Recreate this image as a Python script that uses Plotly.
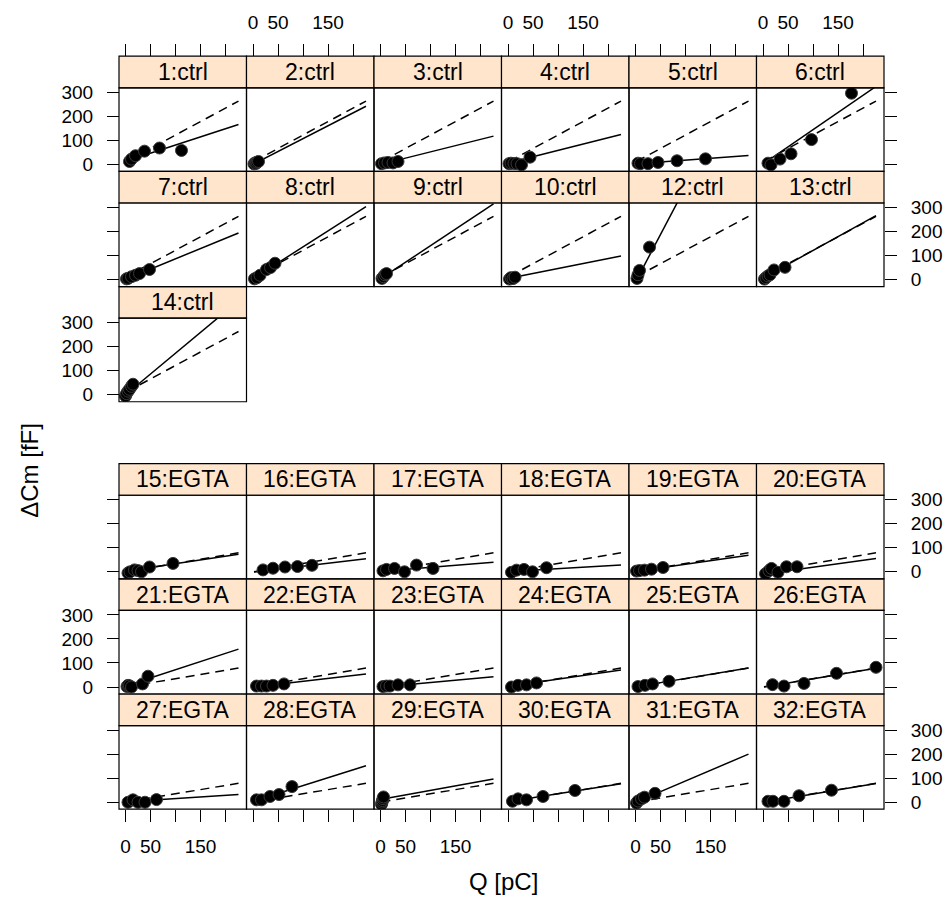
import plotly.graph_objects as go

# ---------------- data ----------------
panel_ids = [1, 2, 3, 4, 5, 6, 7, 8, 9, 10, 12, 13, 14,
             15, 16, 17, 18, 19, 20, 21, 22, 23, 24, 25, 26, 27, 28, 29, 30, 31, 32]
panel_group = ["ctrl"] * 13 + ["EGTA"] * 18

q_values = [
    [8, 12, 20, 38, 68, 112],
    [2, 4, 6, 8, 11],
    [2, 8, 15, 25, 35],
    [2, 6, 12, 18, 27, 44],
    [5, 10, 25, 45, 83, 140],
    [10, 16, 34, 56, 97, 177],
    [2, 5, 12, 20, 28, 48],
    [3, 8, 14, 27, 35, 44],
    [3, 6, 9, 12],
    [3, 6, 10, 14],
    [3, 5, 8, 28],
    [3, 6, 10, 14, 22, 44],
    [0, 2, 5, 8, 12, 15],
    [5, 9, 18, 25, 32, 48, 95],
    [20, 40, 64, 89, 118],
    [5, 12, 28, 48, 72, 105],
    [7, 17, 32, 49, 77],
    [2, 8, 18, 32, 55],
    [5, 12, 17, 30, 47, 68],
    [3, 5, 8, 12, 34, 45],
    [7, 17, 27, 40, 62],
    [5, 12, 19, 35, 59],
    [7, 20, 37, 57],
    [5, 19, 34, 67],
    [19, 42, 82, 147, 226],
    [5, 15, 25, 39, 62],
    [7, 17, 34, 52, 78],
    [2, 3, 4, 5, 6],
    [9, 20, 37, 70, 134],
    [2, 5, 12, 18, 39],
    [10, 20, 42, 72, 137],
]
dcm_values = [
    [12, 22, 36, 55, 68, 58],
    [2, 6, 4, 9, 12],
    [3, 6, 8, 6, 12],
    [3, 5, 4, 3, -2, 30],
    [5, 3, 3, 8, 15, 23],
    [5, -2, 22, 44, 103, 296],
    [3, 5, 12, 18, 25, 42],
    [3, 8, 18, 42, 50, 68],
    [5, 12, 20, 25],
    [2, 8, 4, 10],
    [5, 20, 38, 135],
    [2, 8, 15, 20, 40, 51],
    [-5, 5, 15, 23, 35, 44],
    [-5, 0, 8, 5, 0, 20, 35],
    [8, 15, 20, 22, 27],
    [4, 10, 14, 0, 28, 14],
    [-2, 7, 10, 0, 17],
    [3, 5, 7, 11, 18],
    [-8, 5, 14, -2, 21, 21],
    [2, 7, 5, 0, 13, 45],
    [4, 4, 4, 7, 13],
    [2, 4, 4, 9, 9],
    [0, 7, 9, 17],
    [2, 7, 13, 24],
    [10, 4, 15, 57, 82],
    [0, 10, 0, 0, 11],
    [10, 10, 24, 32, 65],
    [-8, 0, 7, 15, 22],
    [4, 14, 10, 24, 49],
    [-3, 5, 14, 21, 37],
    [4, 4, 4, 27, 50],
]
# individual fits (solid): intercept, slope
fit_intercept = [13, 0, 0, 6, 2, 1, 1, 3, 3, 5, -10, 6, 0,
                 3, -1, 2, 1, 2, -10, 4, 0, 0, 3, 1, -1, 2, 4, 12, 2, 0, -1]
fit_slope = [0.675, 1.07, 0.52, 0.525, 0.155, 1.43, 0.854, 1.33, 1.38, 0.41, 3.95, 1.15, 1.73,
             0.31, 0.245, 0.165, 0.12, 0.296, 0.29, 0.68, 0.24, 0.19, 0.3, 0.345, 0.35,
             0.133, 0.655, 0.375, 0.33, 0.885, 0.35]
# group fits (dashed)
group_intercept = {"ctrl": 10, "EGTA": 0}
group_slope = {"ctrl": 1.12, "EGTA": 0.35}
line_q_range = [2, 226]

x_tickvals = [0, 50, 100, 150, 200]
x_ticktext = ["0", "50", "", "150", ""]
y_tickvals = [0, 100, 200, 300]
y_ticktext = ["0", "100", "200", "300"]

# ---------------- layout geometry ----------------
W, H = 948, 904
COL_LEFT, COL_W = 119, 127.5
ROW_H, STRIP_H = 116.5, 32
GROUP_TOP = {"ctrl": 50.7, "EGTA": 462.7}
XR = [-13, 242]
YR = [-29, 318.5]
FONT = "Liberation Sans, Arial, sans-serif"
TICKFONT = dict(family=FONT, size=19, color="black")


def fx(p):
    return p / W


def fy(p):
    return 1 - p / H


fig = go.Figure()
shapes = []
annotations = []

positions = []
ctrl_i = 0
egta_i = 0
for pid, g in zip(panel_ids, panel_group):
    if g == "ctrl":
        positions.append((ctrl_i // 6, ctrl_i % 6))
        ctrl_i += 1
    else:
        positions.append((egta_i // 6, egta_i % 6))
        egta_i += 1

for i, (pid, g) in enumerate(zip(panel_ids, panel_group)):
    r, c = positions[i]
    left = COL_LEFT + COL_W * c
    right = left + COL_W
    top = GROUP_TOP[g] + ROW_H * r
    sbot = top + STRIP_H
    bot = top + ROW_H
    n = i + 1
    xa = "x" if n == 1 else f"x{n}"
    ya = "y" if n == 1 else f"y{n}"
    xk = "xaxis" if n == 1 else f"xaxis{n}"
    yk = "yaxis" if n == 1 else f"yaxis{n}"

    # ---- x axis ----
    xax = dict(domain=[fx(left), fx(right)], range=XR, showgrid=False, zeroline=False,
               showline=False, anchor="free", tickvals=x_tickvals, tickfont=TICKFONT,
               ticklen=12, tickwidth=1, tickcolor="black", fixedrange=True)
    if g == "ctrl" and r == 0:
        xax.update(side="top", position=fy(top), ticks="outside",
                   ticktext=x_ticktext if c % 2 == 1 else [""] * 5,
                   showticklabels=True, ticklabelstandoff=8)
    elif g == "EGTA" and r == 2:
        xax.update(side="bottom", position=fy(bot), ticks="outside",
                   ticktext=x_ticktext if c % 2 == 0 else [""] * 5,
                   showticklabels=True, ticklabelstandoff=8)
    else:
        xax.update(position=fy(bot), ticks="", showticklabels=False)
    fig.layout[xk] = xax

    # ---- y axis ----
    yax = dict(domain=[fy(bot), fy(sbot)], range=YR, showgrid=False, zeroline=False,
               showline=False, anchor="free", tickvals=y_tickvals, tickfont=TICKFONT,
               ticklen=12, tickwidth=1, tickcolor="black", fixedrange=True)
    label_left = (r % 2 == 0) if g == "ctrl" else (r % 2 == 1)
    if c == 0:
        yax.update(side="left", position=fx(left), ticks="outside",
                   ticktext=y_ticktext if label_left else [""] * 4,
                   ticklabelstandoff=10)
    elif c == 5:
        yax.update(side="right", position=fx(right), ticks="outside",
                   ticktext=y_ticktext if not label_left else [""] * 4,
                   ticklabelstandoff=10)
    else:
        yax.update(position=fx(left), ticks="", showticklabels=False)
    fig.layout[yk] = yax

    # ---- traces ----
    q0, q1 = line_q_range
    gi, gs = group_intercept[g], group_slope[g]
    fig.add_trace(go.Scatter(x=[q0, q1], y=[gi + gs * q0, gi + gs * q1], mode="lines",
                             line=dict(color="black", width=1.5, dash="9px,6px"),
                             xaxis=xa, yaxis=ya, showlegend=False, hoverinfo="skip"))
    fi, fs = fit_intercept[i], fit_slope[i]
    fig.add_trace(go.Scatter(x=[q0, q1], y=[fi + fs * q0, fi + fs * q1], mode="lines",
                             line=dict(color="black", width=1.5),
                             xaxis=xa, yaxis=ya, showlegend=False, hoverinfo="skip"))
    fig.add_trace(go.Scatter(x=q_values[i], y=dcm_values[i], mode="markers",
                             marker=dict(size=12, color="black",
                                         line=dict(color="#3a3a3a", width=1)),
                             xaxis=xa, yaxis=ya, showlegend=False, cliponaxis=True))

    # ---- strip & border ----
    shapes.append(dict(type="rect", xref="paper", yref="paper",
                       x0=fx(left), x1=fx(right), y0=fy(sbot), y1=fy(top),
                       fillcolor="#FFE5CC", line=dict(color="black", width=1.2), layer="below"))
    shapes.append(dict(type="rect", xref="paper", yref="paper",
                       x0=fx(left), x1=fx(right), y0=fy(bot), y1=fy(sbot),
                       fillcolor="rgba(0,0,0,0)", line=dict(color="black", width=1.2)))
    annotations.append(dict(text=f"{pid}:{g}", xref="paper", yref="paper",
                            x=fx((left + right) / 2), y=fy((top + sbot) / 2),
                            xanchor="center", yanchor="middle", showarrow=False,
                            font=dict(family=FONT, size=23, color="black")))

annotations.append(dict(text="ΔCm [fF]", xref="paper", yref="paper", x=fx(30), y=fy(470),
                        textangle=-90, xanchor="center", yanchor="middle", showarrow=False,
                        font=dict(family=FONT, size=24, color="black")))
annotations.append(dict(text="Q [pC]", xref="paper", yref="paper", x=fx(503), y=fy(885),
                        xanchor="center", yanchor="middle", showarrow=False,
                        font=dict(family=FONT, size=24, color="black")))

fig.update_layout(width=W, height=H, margin=dict(l=0, r=0, t=0, b=0),
                  paper_bgcolor="white", plot_bgcolor="white",
                  shapes=shapes, annotations=annotations)

fig.write_html("out.html", config={"displayModeBar": False},
               post_script="document.body.style.margin='0px';"
                           "document.body.style.overflow='hidden';")
